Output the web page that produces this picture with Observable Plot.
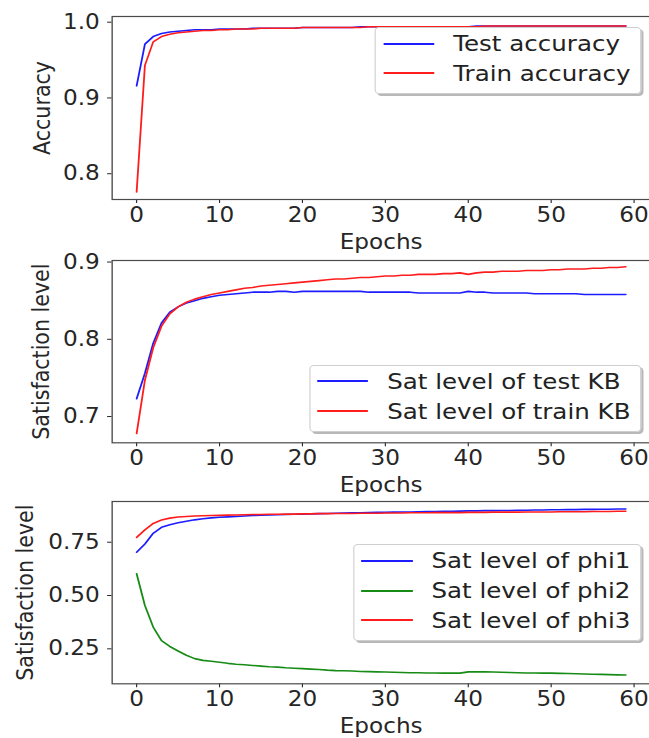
<!DOCTYPE html>
<html><head><meta charset="utf-8">
<script src="https://cdn.jsdelivr.net/npm/d3@7"></script>
<script src="https://cdn.jsdelivr.net/npm/@observablehq/plot@0.6"></script>
<style>
html,body{margin:0;padding:0;background:#fff;width:649px;height:738px;overflow:hidden;}
#wrap{position:relative;width:590px;height:738px;transform:scaleX(1.125);transform-origin:0 0;font-family:"DejaVu Sans";}
.panel{position:absolute;left:0;width:590px;}
.panel svg{overflow:visible;background:transparent;}
.legend{position:absolute;background:rgba(255,255,255,0.88);border:1px solid #cfcfcf;border-radius:4px;box-shadow:2px 2px 0 rgba(0,0,0,0.28);padding:1px 9px 5px 0;font-size:21.8px;color:#222;}
.row{display:flex;align-items:center;height:29.7px;white-space:nowrap;}
.sw{width:45.5px;height:2px;margin-left:6.3px;margin-right:16.7px;}
</style></head><body><div id="wrap"></div><script>
const epochs = [
 0,1,2,3,4,5,6,7,8,9,
 10,11,12,13,14,15,16,17,18,19,
 20,21,22,23,24,25,26,27,28,29,
 30,31,32,33,34,35,36,37,38,39,
 40,41,42,43,44,45,46,47,48,49,
 50,51,52,53,54,55,56,57,58,59];
const xTicks = [0,10,20,30,40,50,60];

const testAccuracy = [
 0.916,0.971,0.981,0.985,0.987,0.988,0.989,0.990,0.990,0.990,
 0.991,0.991,0.991,0.991,0.992,0.992,0.992,0.992,0.992,0.992,
 0.993,0.993,0.993,0.993,0.993,0.993,0.993,0.994,0.994,0.994,
 0.994,0.994,0.994,0.994,0.994,0.994,0.994,0.994,0.994,0.994,
 0.994,0.995,0.995,0.995,0.995,0.995,0.995,0.995,0.995,0.995,
 0.995,0.995,0.995,0.995,0.995,0.995,0.995,0.995,0.995,0.995];
const trainAccuracy = [
 0.776,0.943,0.974,0.981,0.984,0.986,0.987,0.988,0.989,0.989,
 0.990,0.990,0.991,0.991,0.991,0.992,0.992,0.992,0.992,0.992,
 0.993,0.993,0.993,0.993,0.993,0.993,0.993,0.993,0.994,0.994,
 0.994,0.994,0.994,0.994,0.994,0.994,0.994,0.994,0.994,0.994,
 0.994,0.994,0.995,0.995,0.995,0.995,0.995,0.995,0.995,0.995,
 0.995,0.995,0.995,0.995,0.995,0.995,0.995,0.995,0.995,0.995];

const satTestKB = [
 0.723,0.756,0.795,0.821,0.835,0.842,0.847,0.850,0.853,0.855,
 0.857,0.858,0.859,0.860,0.861,0.861,0.861,0.862,0.862,0.861,
 0.862,0.862,0.862,0.862,0.862,0.862,0.862,0.862,0.861,0.861,
 0.861,0.861,0.861,0.861,0.860,0.860,0.860,0.860,0.860,0.860,
 0.862,0.861,0.861,0.860,0.860,0.860,0.860,0.860,0.859,0.859,
 0.859,0.859,0.859,0.859,0.858,0.858,0.858,0.858,0.858,0.858];
const satTrainKB = [
 0.678,0.747,0.789,0.817,0.833,0.842,0.848,0.852,0.855,0.858,
 0.860,0.862,0.864,0.866,0.867,0.869,0.870,0.871,0.872,0.873,
 0.874,0.875,0.876,0.877,0.878,0.878,0.879,0.880,0.880,0.881,
 0.882,0.882,0.883,0.883,0.884,0.884,0.884,0.885,0.885,0.886,
 0.884,0.886,0.887,0.887,0.888,0.888,0.888,0.889,0.889,0.889,
 0.890,0.890,0.891,0.891,0.891,0.892,0.892,0.893,0.893,0.894];

const satPhi1 = [
 0.703,0.742,0.792,0.820,0.832,0.841,0.848,0.855,0.860,0.864,
 0.867,0.869,0.871,0.873,0.875,0.877,0.878,0.879,0.880,0.881,
 0.882,0.883,0.884,0.885,0.886,0.887,0.888,0.888,0.889,0.890,
 0.890,0.891,0.892,0.892,0.893,0.894,0.894,0.895,0.895,0.896,
 0.897,0.897,0.898,0.898,0.899,0.899,0.900,0.900,0.901,0.901,
 0.902,0.902,0.903,0.903,0.904,0.904,0.905,0.905,0.906,0.906];
const satPhi2 = [
 0.602,0.453,0.352,0.289,0.261,0.240,0.220,0.204,0.196,0.192,
 0.187,0.182,0.178,0.175,0.172,0.169,0.166,0.164,0.161,0.159,
 0.157,0.155,0.153,0.150,0.148,0.147,0.146,0.144,0.143,0.142,
 0.141,0.140,0.139,0.138,0.138,0.137,0.137,0.136,0.136,0.136,
 0.142,0.142,0.142,0.141,0.140,0.139,0.138,0.137,0.137,0.136,
 0.136,0.135,0.134,0.133,0.132,0.131,0.130,0.129,0.128,0.127];
const satPhi3 = [
 0.773,0.808,0.838,0.854,0.863,0.868,0.871,0.873,0.874,0.875,
 0.876,0.877,0.878,0.879,0.880,0.880,0.881,0.881,0.882,0.882,
 0.883,0.883,0.884,0.884,0.885,0.885,0.885,0.886,0.886,0.886,
 0.887,0.887,0.887,0.888,0.888,0.888,0.889,0.889,0.889,0.889,
 0.890,0.890,0.890,0.891,0.891,0.891,0.891,0.892,0.892,0.892,
 0.892,0.893,0.893,0.893,0.893,0.894,0.894,0.894,0.895,0.895];

const yTicks1 = [0.8, 0.9, 1.0];
const yTicks2 = [0.7, 0.8, 0.9];
const yTicks3 = [0.25, 0.50, 0.75];

const BLUE = "#1c1cff", RED = "#ff1c1c", GREEN = "#168c16";

const panels = [
  {series: [{name: "Test accuracy", values: testAccuracy, color: BLUE},
            {name: "Train accuracy", values: trainAccuracy, color: RED}],
   yDomain: [0.766, 1.0075], yTicks: yTicks1, yFormat: ".1f", yLabel: "Accuracy", yLabelOffset: 70,
   top: 0, height: 250, marginBottom: 51, legend: {right: 19.6, top: 26.7}},
  {series: [{name: "Sat level of test KB", values: satTestKB, color: BLUE},
            {name: "Sat level of train KB", values: satTrainKB, color: RED}],
   yDomain: [0.666, 0.902], yTicks: yTicks2, yFormat: ".1f", yLabel: "Satisfaction level", yLabelOffset: 71,
   top: 244, height: 250, marginBottom: 51.7, legend: {right: 19.6, bottom: 62}},
  {series: [{name: "Sat level of phi1", values: satPhi1, color: BLUE},
            {name: "Sat level of phi2", values: satPhi2, color: GREEN},
            {name: "Sat level of phi3", values: satPhi3, color: RED}],
   yDomain: [0.086, 0.941], yTicks: yTicks3, yFormat: ".2f", yLabel: "Satisfaction level", yLabelOffset: 85,
   top: 485, height: 253, marginBottom: 54.7, legend: {right: 19.6, top: 59}}
];

const wrap = document.getElementById("wrap");
for (const p of panels) {
  const div = document.createElement("div");
  div.className = "panel";
  div.style.top = p.top + "px";
  div.style.height = p.height + "px";
  const plot = Plot.plot({
    width: 590, height: p.height,
    marginLeft: 99.2, marginRight: 12.5, marginTop: 16, marginBottom: p.marginBottom,
    style: {fontFamily: "DejaVu Sans", fontSize: "20.6px", color: "#262626", background: "transparent", overflow: "visible"},
    x: {domain: [-2.95, 61.95], ticks: xTicks, tickFormat: "d", label: "Epochs", labelAnchor: "center", labelArrow: "none", labelOffset: 49, tickSize: 4, tickPadding: 4},
    y: {domain: p.yDomain, ticks: p.yTicks, tickFormat: p.yFormat, label: p.yLabel, labelAnchor: "center", labelArrow: "none", labelOffset: p.yLabelOffset, tickSize: 4, tickPadding: 7},
    marks: [
      ...p.series.map(s => Plot.lineY(s.values, {x: (d, i) => epochs[i], y: d => d, stroke: s.color, strokeWidth: 1.6})),
      Plot.frame({stroke: "#4a4a4a", strokeWidth: 1.2})
    ]
  });
  div.appendChild(plot);
  const lg = document.createElement("div");
  lg.className = "legend";
  for (const k of Object.keys(p.legend)) lg.style[k] = p.legend[k] + "px";
  for (const s of p.series) {
    const row = document.createElement("div");
    row.className = "row";
    const sw = document.createElement("div");
    sw.className = "sw";
    sw.style.background = s.color;
    const t = document.createElement("span");
    t.textContent = s.name;
    row.appendChild(sw); row.appendChild(t);
    lg.appendChild(row);
  }
  div.appendChild(lg);
  wrap.appendChild(div);
}
</script></body></html>
